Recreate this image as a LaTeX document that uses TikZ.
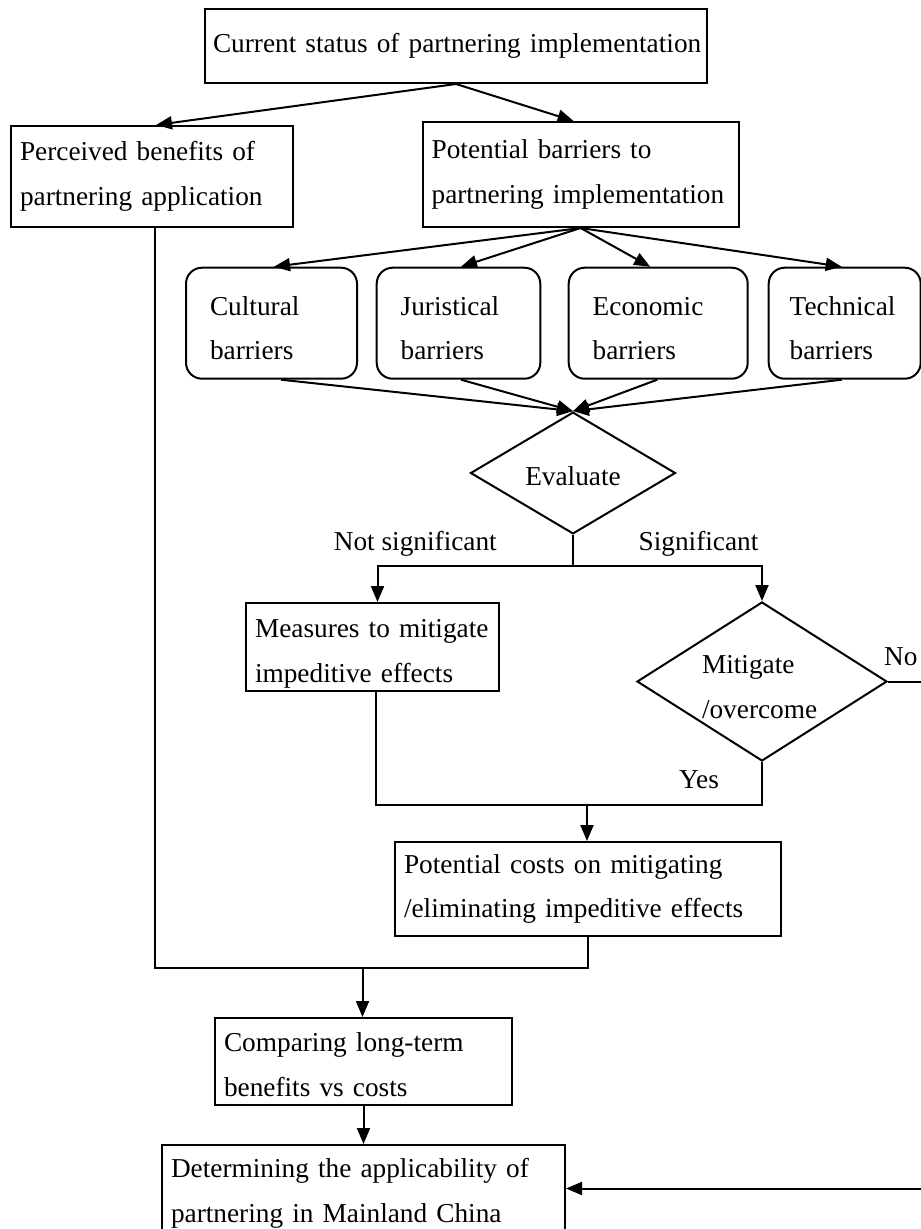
\documentclass[tikz,border=0pt]{standalone}
\usepackage{fontspec}
\setmainfont{Liberation Serif}
\usetikzlibrary{arrows.meta, shapes.geometric, positioning}
\hyphenpenalty=10000
\exhyphenpenalty=10000
\tikzset{
  >={Triangle[length=16pt,width=13pt]},
  % testo e caselle
  txt/.style={font=\fontsize{27.3pt}{44.5pt}\selectfont},
  stepbox/.style={txt,draw,line width=2pt,anchor=north west,align=left,inner xsep=9pt,inner ysep=0pt},
  barrierbox/.style={stepbox,rounded corners=16pt,inner xsep=24pt,minimum height=111pt,text height=29pt},
  decision/.style={txt,draw,line width=2pt,diamond,inner sep=0pt,align=left},
  tag/.style={txt,inner sep=0pt},
  % connessioni
  flow/.style={line width=2pt},
  flow arrow/.style={flow,->}
}

\begin{document}
\begin{tikzpicture}[x=1pt,y=-1pt]
  \useasboundingbox (0,0) rectangle (921,1229);
  \clip (0,0) rectangle (921,1229);

  \node[stepbox,inner xsep=8pt,text width=486pt,minimum height=74pt] (status) at (204,8) {Current~status~of~partnering~implementation};
  \node[stepbox,text width=264pt,minimum height=101pt] (benefit) at (10,125) {Perceived~benefits~of\\partnering~application};
  \node[stepbox,text width=298pt,minimum height=105pt] (barrier) at (421.6,121) {Potential~barriers~to\\partnering~implementation};

  \node[barrierbox,text width=123pt] (cultural) at (185,266.7) {Cultural\\barriers};
  \node[barrierbox,text width=115.6pt] (juristical) at (375.7,266.7) {Juristical\\barriers};
  \node[barrierbox,text width=131pt] (economic) at (567.7,266.7) {Economic\\barriers};
  \node[barrierbox,inner xsep=21pt,text width=110pt] (technical) at (767.7,266.7) {Technical\\barriers};

  \node[decision,text height=26pt,minimum width=205pt,minimum height=119pt] (evaluate) at (573,473) {Evaluate};
  \node[stepbox,text width=235pt,minimum height=88pt,text height=32pt] (measures) at (245,602) {Measures~to~mitigate\\impeditive~effects};
  \node[decision,shape aspect=1.6,text width=120pt,text height=29pt,minimum width=250pt,minimum height=159pt] (mitigate) at (762,681.5) {Mitigate\\/overcome};
  \node[stepbox,text width=368pt,minimum height=94pt] (costs) at (394,841) {Potential~costs~on~mitigating\\/eliminating~impeditive~effects};
  \node[stepbox,text width=279pt,minimum height=87pt,text height=25pt] (compare) at (214,1017) {Comparing~long-term\\benefits~vs~costs};
  \node[stepbox,text width=385pt,minimum height=87pt,text height=29pt] (decide) at (161,1144) {Determining~the~applicability~of\\partnering~in~Mainland~China};

  \node[tag,anchor=base east] (notsig) at (497,550) {Not significant};
  \node[tag,anchor=base west] (sig) at (638.4,550) {Significant};
  \node[tag,anchor=base west] (no) at (884,665) {No};
  \node[tag,anchor=base west] (yes) at (679,788) {Yes};

  \coordinate (split) at (573,566);
  \coordinate (merge) at (587,804.6);
  \coordinate (gather) at (362.5,968);

  \draw[flow arrow] (status.south) -- ([xshift=4pt]benefit.north);
  \draw[flow arrow] (status.south) -- ([xshift=-7pt]barrier.north);
  \foreach \b/\s in {cultural/2.5,juristical/2.5,economic/-8,technical/-3}
    \draw[flow arrow] (barrier.south) -- ([xshift=\s pt]\b.north);
  \foreach \b/\s in {cultural/9.5,juristical/2.5,economic/-1,technical/-3}
    \draw[flow arrow] ([xshift=\s pt]\b.south) -- (evaluate.north);

  \draw[flow] (evaluate.south) -- (split);
  \draw[flow arrow] (split) -| ([xshift=5pt]measures.north);
  \draw[flow arrow] (split) -| (mitigate.north);
  \draw[flow] ([xshift=3pt]measures.south) |- (merge) -| (mitigate.south);
  \draw[flow arrow] (merge) -- (merge |- costs.north);
  \draw[flow] ([xshift=3pt]benefit.south) |- (gather) -| (costs.south);
  \draw[flow arrow] (gather) -- (gather |- compare.north);
  \draw[flow arrow] (compare.south) -- (decide.north);
  \draw[flow arrow] (mitigate.east) -- ++(50,0) |- (decide.east);
\end{tikzpicture}
\end{document}
